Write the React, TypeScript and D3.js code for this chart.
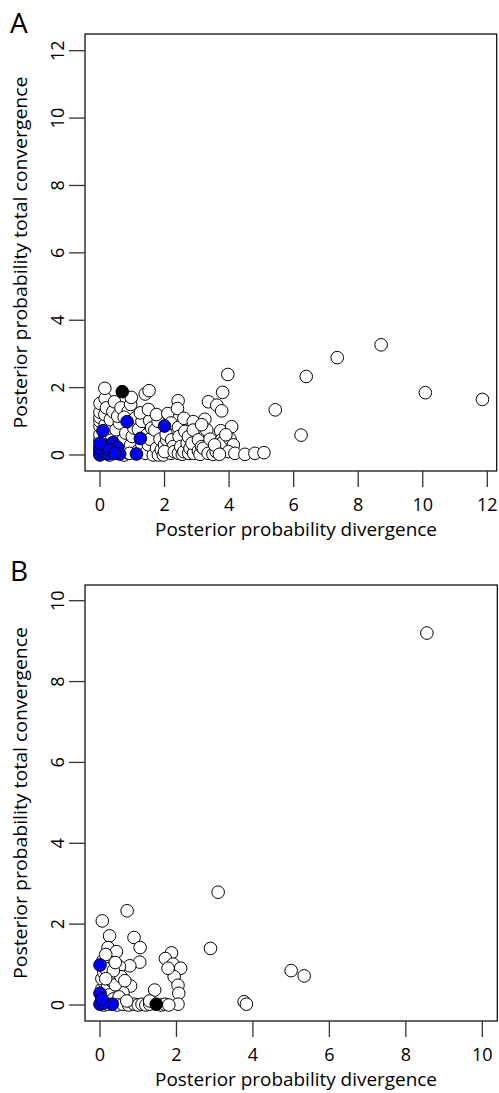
import React from "react";
import * as d3 from "d3";

type P = [number, number];

const panelAWhite: P[] = [
  [0,0],[0,0.12],[0,0.25],[0,0.45],[0,0.6],[0,0.85],[0,1.0],[0,1.12],[0,1.27],[0,1.53],
  [0.15,0.05],[0.15,0.5],[0.16,0.9],[0.15,1.2],[0.16,1.68],[0.15,1.98],[0.2,1.4],
  [0.3,0],[0.3,0.3],[0.35,0.6],[0.3,0.8],[0.32,1.05],[0.4,1.29],[0.45,1.58],
  [0.5,0.05],[0.55,0.45],[0.5,0.75],[0.6,0.95],[0.55,1.15],[0.65,1.4],
  [0.75,0],[0.75,0.2],[0.72,0.45],[0.8,0.65],[0.87,1.29],[0.95,1.5],[0.97,1.71],[0.75,1.12],
  [0.9,0.05],[0.95,0.3],[1.0,0.55],[1.05,0.8],[1.1,1.1],[0.92,0.05],
  [1.2,0.15],[1.19,0.76],[1.3,1.0],[1.25,1.25],[1.4,1.81],[1.52,1.91],[1.3,0.3],
  [1.4,0.05],[1.45,0.6],[1.5,0.3],[1.54,1.02],[1.55,0.47],[1.6,0.8],[1.5,1.35],
  [1.65,0],[1.7,0.74],[1.75,0.2],[1.81,0],[1.86,0.47],[1.8,1.0],[1.75,1.2],[1.9,0.15],
  [1.96,0],[2.0,0.3],[2.07,0.45],[2.1,1.23],[2.05,0.62],[2.2,0.05],[2.22,0.45],[2.27,0.25],[2.2,0.95],[2.0,0.1],[2.3,0.1],
  [2.42,1.61],[2.4,1.38],[2.43,0.82],[2.43,0.05],[2.45,0.55],[2.5,0.25],[2.55,0.02],
  [2.6,1.09],[2.63,0.7],[2.6,0.1],[2.7,0.35],[2.75,0.05],
  [2.74,0.54],[2.79,0.2],[2.89,0.99],[2.89,0.74],[2.9,0.05],[2.85,0.35],
  [3.05,0.45],[3.05,0.12],[3.1,0.02],[3.15,0.25],[3.2,0.2],[3.25,1.06],[3.25,0.74],[3.36,1.58],[3.31,0.74],[3.41,0.47],[3.35,0.05],[3.15,0.9],[3.5,0.02],
  [3.62,1.48],[3.77,1.31],[3.8,1.86],[3.96,2.39],[3.74,0.72],[3.77,0.45],[3.77,0.35],[4.08,0.84],[4.03,0.47],[4.13,0.3],[3.98,0.1],[4.18,0.05],[3.6,0.1],[3.55,0.3],[3.9,0.6],[3.7,0.02],
  [4.49,0.02],[4.8,0.05],[5.08,0.07],[5.43,1.34],[6.23,0.59],[6.39,2.33],[7.35,2.89],[8.71,3.27],[10.08,1.85],[11.85,1.65],
];
const panelABlue: P[] = [
  [0,0.02],[0.12,0.1],[0.25,0.03],[0,0.2],[0.1,0.3],[0.4,0.37],[0.54,0.23],[0.61,0.03],
  [1.13,0.03],[0,0.35],[0.09,0.72],[0.84,0.99],[2.0,0.86],[1.25,0.49],[0.3,0.15],[0.45,0.05],
];
const panelABlack: P[] = [[0.69,1.88]];

const panelBWhite: P[] = [
  [0.71,2.33],[0.06,2.08],[0.25,1.71],[0.89,1.67],[0.21,1.42],[0.43,1.32],[1.05,1.42],[2.89,1.40],
  [1.87,1.29],[1.71,1.15],[1.91,1.01],[2.11,0.91],[1.94,0.7],[2.04,0.49],[2.06,0.29],[2.04,0.02],
  [1.04,1.06],[0.78,0.97],[0.51,0.95],[0.25,0.99],[1.78,0.91],[0.8,0.47],[0.6,0.31],[1.43,0.37],
  [3.09,2.79],[8.55,9.2],[3.77,0.08],[3.83,0.02],[5.0,0.85],[5.34,0.72],
  [0.05,0.1],[0.1,0.2],[0.05,0.4],[0.12,0.55],[0.05,0.65],[0.1,0.8],[0.08,1.1],[0.15,0.9],
  [0.2,0.45],[0.3,0.6],[0.25,0.25],[0.15,1.25],[0.35,0.15],
  [0.4,0.5],[0.55,0.7],[0.35,0.85],[0.4,1.05],[0.15,0.65],[0.5,0.2],[0.65,0.6],
  [0.1,0],[0.2,0.02],[0.45,0],[0.6,0.02],[0.75,0],[0.9,0.02],[1.0,0],[1.1,0.02],[1.2,0],
  [1.3,0.02],[1.6,0],[1.7,0.02],[1.8,0],[0.7,0.1],[1.3,0.1],
];
const panelBBlue: P[] = [[0,0.99],[0,0.29],[0,0.02],[0.32,0.02],[0.1,0.05],[0.05,0.15]];
const panelBBlack: P[] = [[1.47,0.02]];

const panelATicks = [0, 2, 4, 6, 8, 10, 12];
const panelBTicks = [0, 2, 4, 6, 8, 10];

const xTitle = "Posterior probability divergence";
const yTitle = "Posterior probability total convergence";

const FONT = "'Open Sans', 'Noto Sans', sans-serif";

interface PanelProps {
  letter: string;
  box: { left: number; right: number; top: number; bottom: number };
  x: d3.ScaleLinear<number, number>;
  y: d3.ScaleLinear<number, number>;
  ticks: number[];
  white: P[];
  blue: P[];
  black: P[];
  letterBaseline: number;
}

function Panel({ letter, box, x, y, ticks, white, blue, black, letterBaseline }: PanelProps) {
  const r = 6.3;
  const tickLen = 16;
  const cy = (box.top + box.bottom) / 2;
  const drawPts = (pts: P[], fill: string, key: string) =>
    pts.map((p, i) => (
      <circle key={key + i} cx={x(p[0])} cy={y(p[1])} r={r} fill={fill} stroke="#000" strokeWidth={1} />
    ));
  return (
    <g>
      <text x={10} y={letterBaseline} fontSize={28} fontFamily={FONT}>{letter}</text>
      <rect x={box.left} y={box.top} width={box.right - box.left} height={box.bottom - box.top}
        fill="none" stroke="#000" strokeWidth={1.2} />
      {drawPts(white, "#fff", "w")}
      {drawPts(blue, "#0000ff", "b")}
      {drawPts(black, "#000", "k")}
      {ticks.map((t) => (
        <g key={"xt" + t}>
          <line x1={x(t)} x2={x(t)} y1={box.bottom} y2={box.bottom + tickLen} stroke="#333" strokeWidth={1.3} />
          <text x={x(t)} y={box.bottom + 39.5} textAnchor="middle" fontSize={18} fontFamily={FONT}>{t}</text>
        </g>
      ))}
      {ticks.map((t) => (
        <g key={"yt" + t}>
          <line x1={box.left - tickLen} x2={box.left} y1={y(t)} y2={y(t)} stroke="#333" strokeWidth={1.3} />
          <text transform={`translate(63.5,${y(t)}) rotate(-90)`} textAnchor="middle" fontSize={18} fontFamily={FONT}>{t}</text>
        </g>
      ))}
      <text x={296} y={box.bottom + 65} textAnchor="middle" fontSize={18} fontFamily={FONT}
        textLength={282} lengthAdjust="spacingAndGlyphs">{xTitle}</text>
      <text transform={`translate(27,${cy}) rotate(-90)`} textAnchor="middle" fontSize={18} fontFamily={FONT}
        textLength={352} lengthAdjust="spacingAndGlyphs">{yTitle}</text>
    </g>
  );
}

export default function App() {
  const xA = d3.scaleLinear().domain([0, 12]).range([100, 487.3]);
  const yA = d3.scaleLinear().domain([0, 12]).range([455, 50.7]);
  const xB = d3.scaleLinear().domain([0, 10]).range([100, 482.3]);
  const yB = d3.scaleLinear().domain([0, 10]).range([1005, 600.7]);
  return (
    <svg width={499} height={1093} style={{ position: "absolute", left: 0, top: 0, background: "#fff" }}>
      <rect x={0} y={0} width={499} height={1093} fill="#fff" />
      <Panel letter="A" box={{ left: 85, right: 496.7, top: 34, bottom: 471 }} x={xA} y={yA}
        ticks={panelATicks} white={panelAWhite} blue={panelABlue} black={panelABlack} letterBaseline={33} />
      <Panel letter="B" box={{ left: 85, right: 497.3, top: 585, bottom: 1021 }} x={xB} y={yB}
        ticks={panelBTicks} white={panelBWhite} blue={panelBBlue} black={panelBBlack} letterBaseline={581} />
    </svg>
  );
}
